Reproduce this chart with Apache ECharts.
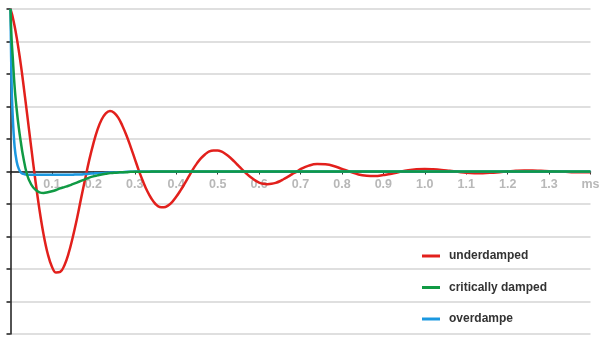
<!DOCTYPE html>
<html><head><meta charset="utf-8">
<script src="https://cdn.jsdelivr.net/npm/echarts@6/dist/echarts.min.js"></script>
<style>html,body{margin:0;padding:0;background:#fff}#c{width:600px;height:343px}</style>
</head><body><div id="c"></div>
<script>
// time in ms
const timeMs = [0,0.0025,0.005,0.01,0.015,0.02,0.025,0.03,
0.04,0.05,0.06,0.07,0.08,0.09,0.10,0.11,0.12,0.13,0.14,0.15,0.16,0.17,0.18,0.19,0.20,0.21,0.22,0.23,0.24,0.25,0.26,0.27,0.28,0.29,0.30,
0.31,0.32,0.33,0.34,0.35,0.36,0.37,0.38,0.39,0.40,0.41,0.42,0.43,0.44,0.45,0.46,0.47,0.48,0.49,0.50,
0.51,0.52,0.53,0.54,0.55,0.56,0.57,0.58,0.59,0.60,0.61,0.62,0.63,0.64,0.65,0.66,0.67,0.68,0.69,0.70,
0.72,0.74,0.76,0.78,0.80,
0.82,0.84,0.86,0.88,0.90,0.92,0.94,0.96,0.98,1.00,1.02,1.04,1.06,1.08,1.10,1.12,1.14,1.16,1.18,1.20,1.22,1.24,1.26,1.28,1.30,
1.32,1.34,1.36,1.38,1.40];

const underdamped = [5.0,4.89,4.77,4.47,4.12,3.72,3.28,2.80,
1.78,0.74,-0.27,-1.18,-1.95,-2.54,-2.93,-3.11,-3.09,-2.89,-2.53,-2.04,-1.48,-0.85,-0.24,0.35,0.86,1.29,1.60,1.79,1.86,1.81,1.66,1.41,1.11,0.76,0.39,
0.02,-0.31,-0.60,-0.83,-1.00,-1.09,-1.10,-1.05,-0.94,-0.78,-0.59,-0.38,-0.16,0.06,0.25,0.41,0.53,0.62,0.65,0.65,
0.61,0.53,0.43,0.31,0.18,0.05,-0.07,-0.18,-0.27,-0.34,-0.38,-0.39,-0.38,-0.35,-0.30,-0.23,-0.16,-0.08,-0.01,0.07,
0.18,0.23,0.22,0.17,0.08,
-0.01,-0.09,-0.13,-0.14,-0.11,-0.07,-0.01,0.04,0.07,0.08,0.07,0.05,0.02,-0.01,-0.04,-0.05,-0.05,-0.04,-0.02,0.00,0.02,0.03,0.03,0.02,0.01,
0.00,-0.01,-0.02,-0.02,-0.02];

const criticallyDamped = [5.0,4.1,3.6,2.6,1.9,1.35,0.9,0.5,
-0.1,-0.4,-0.56,-0.64,-0.66,-0.64,-0.61,-0.57,-0.52,-0.48,-0.44,-0.39,-0.34,-0.29,-0.24,-0.19,-0.15,-0.12,-0.09,-0.07,-0.05,-0.04,-0.03,-0.02,-0.02,-0.01,-0.01,
-0.01,-0.01,-0.01,0,0,0,0,0,0,0,0,0,0,0,0,0,0,0,0,0,
0,0,0,0,0,0,0,0,0,0,0,0,0,0,0,0,0,0,0,0,
0,0,0,0,0,
0,0,0,0,0,0,0,0,0,0,0,0,0,0,0,0,0,0,0,0,0,0,0,0,0,
0,0,0,0,0];

const overdamped = [5.0,2.8,1.8,0.75,0.3,0.08,-0.03,-0.07,
-0.1,-0.1,-0.1,-0.1,-0.1,-0.1,-0.1,-0.1,-0.1,-0.1,-0.1,-0.1,-0.09,-0.09,-0.08,-0.07,-0.06,-0.05,-0.05,-0.04,-0.03,-0.03,-0.02,-0.02,-0.01,-0.01,0,
0,0,0,0,0,0,0,0,0,0,0,0,0,0,0,0,0,0,0,0,
0,0,0,0,0,0,0,0,0,0,0,0,0,0,0,0,0,0,0,0,
0,0,0,0,0,
0,0,0,0,0,0,0,0,0,0,0,0,0,0,0,0,0,0,0,0,0,0,0,0,0,
0,0,0,0,0];

const xTickValues = [0,0.1,0.2,0.3,0.4,0.5,0.6,0.7,0.8,0.9,1.0,1.1,1.2,1.3,1.4];
const xTickLabels = ['','0.1','0.2','0.3','0.4','0.5','0.6','0.7','0.8','0.9','1.0','1.1','1.2','1.3','ms'];
const seriesNames = ['underdamped','critically damped','overdampe'];

const pair = arr => timeMs.map((t,i)=>[t,arr[i]]);

const GRID_TOP = 9, GRID_BOTTOM = 9, H = 343;
const plotH = H - GRID_TOP - GRID_BOTTOM;
const zeroOffset = -plotH / 2; // move x axis up to value 0 (range -5..5)

const chart = echarts.init(document.getElementById('c'), null, {renderer:'canvas'});
chart.setOption({
  animation:false,
  backgroundColor:'#fff',
  grid:{left:10.5,right:9.5,top:GRID_TOP,bottom:GRID_BOTTOM,containLabel:false,outerBoundsMode:'none'},
  xAxis:{
    type:'value',min:0,max:1.4,interval:0.1,position:'bottom',offset:zeroOffset,
    axisLine:{onZero:false,lineStyle:{color:'#1a1a1a',width:1.5}},
    axisTick:{show:true,length:3,lineStyle:{color:'#333',width:1}},
    splitLine:{show:false},
    axisLabel:{
      margin:6.5,color:'#b8b8b8',fontFamily:'Liberation Sans, Arial, sans-serif',fontSize:12.5,fontWeight:'bold',
      showMinLabel:true,showMaxLabel:true,hideOverlap:false,
      formatter:function(v){const i=xTickValues.findIndex(x=>Math.abs(x-v)<1e-6);return i>=0?xTickLabels[i]:'';}
    }
  },
  yAxis:{
    type:'value',min:-5,max:5,interval:1,
    axisLine:{show:true,onZero:false,lineStyle:{color:'#1a1a1a',width:1.5}},
    axisTick:{show:true,inside:false,length:4,lineStyle:{color:'#1a1a1a',width:1.5}},
    axisLabel:{show:false},
    splitLine:{show:true,lineStyle:{color:'#d4d4d4',width:1.5}}
  },
  legend:{
    orient:'vertical',left:422,top:250,itemWidth:18,itemHeight:3,itemGap:19.5,padding:0,
    icon:'rect',
    data:seriesNames,
    textStyle:{color:'#333',fontFamily:'Liberation Sans, Arial, sans-serif',fontSize:12,fontWeight:'bold',padding:[0,0,0,4]}
  },
  series:[
    {name:seriesNames[0],type:'line',data:pair(underdamped),smooth:0.4,showSymbol:false,lineStyle:{color:'#e2201c',width:2.5},itemStyle:{color:'#e2201c'},z:2},
    {name:seriesNames[2],type:'line',data:pair(overdamped),smooth:0.4,showSymbol:false,lineStyle:{color:'#1b98e0',width:2.5},itemStyle:{color:'#1b98e0'},z:3},
    {name:seriesNames[1],type:'line',data:pair(criticallyDamped),smooth:0.4,showSymbol:false,lineStyle:{color:'#109a44',width:2.5},itemStyle:{color:'#109a44'},z:4}
  ]
});
</script>
</body></html>
